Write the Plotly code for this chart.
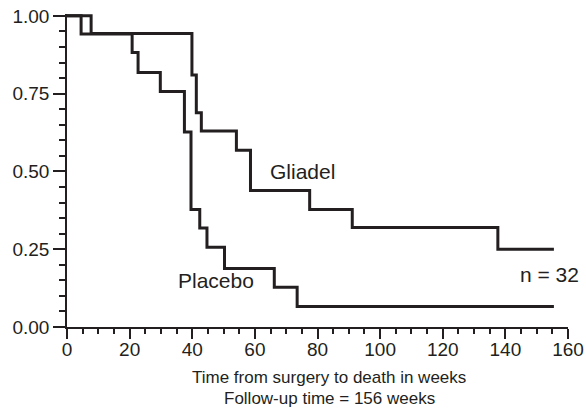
import plotly.graph_objects as go

# Kaplan-Meier style step data (weeks, survival proportion)
placebo_weeks = [0, 4.5, 20.8, 22.7, 29.8, 37.5, 39.6, 42.4, 44.7, 50.3, 66.2, 73.5, 155.5]
placebo_surv = [1.0, 0.942, 0.882, 0.818, 0.757, 0.627, 0.378, 0.318, 0.256, 0.188, 0.128, 0.066, 0.066]

gliadel_weeks = [0, 7.7, 39.9, 41.3, 42.9, 54.1, 58.6, 77.5, 91.1, 137.6, 155.5]
gliadel_surv = [1.0, 0.943, 0.81, 0.689, 0.63, 0.568, 0.439, 0.378, 0.32, 0.25, 0.25]

x_ticks = [0, 20, 40, 60, 80, 100, 120, 140, 160]
y_ticks = [0.0, 0.25, 0.5, 0.75, 1.0]

INK = "#231f20"
FONT = "Liberation Sans, Arial, Helvetica, sans-serif"

fig = go.Figure()
fig.add_trace(go.Scatter(x=gliadel_weeks, y=gliadel_surv, mode="lines",
                         line=dict(shape="hv", color=INK, width=3), name="Gliadel"))
fig.add_trace(go.Scatter(x=placebo_weeks, y=placebo_surv, mode="lines",
                         line=dict(shape="hv", color=INK, width=3), name="Placebo"))

fig.update_layout(
    width=586, height=419,
    margin=dict(l=67, r=18, t=14, b=92),
    paper_bgcolor="white", plot_bgcolor="white",
    showlegend=False,
    font=dict(family=FONT, color=INK, size=19),
)

fig.update_xaxes(
    range=[0, 160], tickvals=x_ticks, ticks="outside", ticklen=10, tickwidth=1.5,
    tickcolor=INK, showline=True, linecolor=INK, linewidth=1.5, showgrid=False,
    zeroline=False, automargin=False, ticklabeloverflow="allow", ticklabelstandoff=-6,
    tickfont=dict(size=19, family=FONT, color=INK),
    minor=dict(dtick=5, ticks="outside", ticklen=5, tickwidth=1.5, tickcolor=INK, showgrid=False),
)
fig.update_yaxes(
    range=[0, 1.006], tickvals=y_ticks, tickformat=".2f", ticks="outside", ticklen=12,
    tickwidth=1.5, tickcolor=INK, showline=True, linecolor=INK, linewidth=1.5,
    showgrid=False, zeroline=False, automargin=False, ticklabeloverflow="allow",
    tickfont=dict(size=19, family=FONT, color=INK),
    minor=dict(dtick=0.05, ticks="outside", ticklen=6, tickwidth=1.5, tickcolor=INK, showgrid=False),
)

fig.add_annotation(x=75.2, y=0.50, text="Gliadel", showarrow=False,
                   xanchor="center", yanchor="middle", font=dict(size=21, family=FONT, color=INK))
fig.add_annotation(x=47.5, y=0.15, text="Placebo", showarrow=False,
                   xanchor="center", yanchor="middle", font=dict(size=21, family=FONT, color=INK))
fig.add_annotation(x=154.1, y=0.168, text="n = 32", showarrow=False,
                   xanchor="center", yanchor="middle", font=dict(size=21, family=FONT, color=INK))

fig.add_annotation(x=83.8, xref="x", y=0, yref="paper", yshift=-50,
                   text="Time from surgery to death in weeks", showarrow=False,
                   xanchor="center", yanchor="middle", font=dict(size=17, family=FONT, color=INK))
fig.add_annotation(x=83.8, xref="x", y=0, yref="paper", yshift=-71,
                   text="Follow-up time = 156 weeks", showarrow=False,
                   xanchor="center", yanchor="middle", font=dict(size=17, family=FONT, color=INK))

# remove the browser's default 8px body margin so the figure fills the window
fig.write_html("out.html", config={"displayModeBar": False},
               post_script="document.body.style.margin='0px';")
